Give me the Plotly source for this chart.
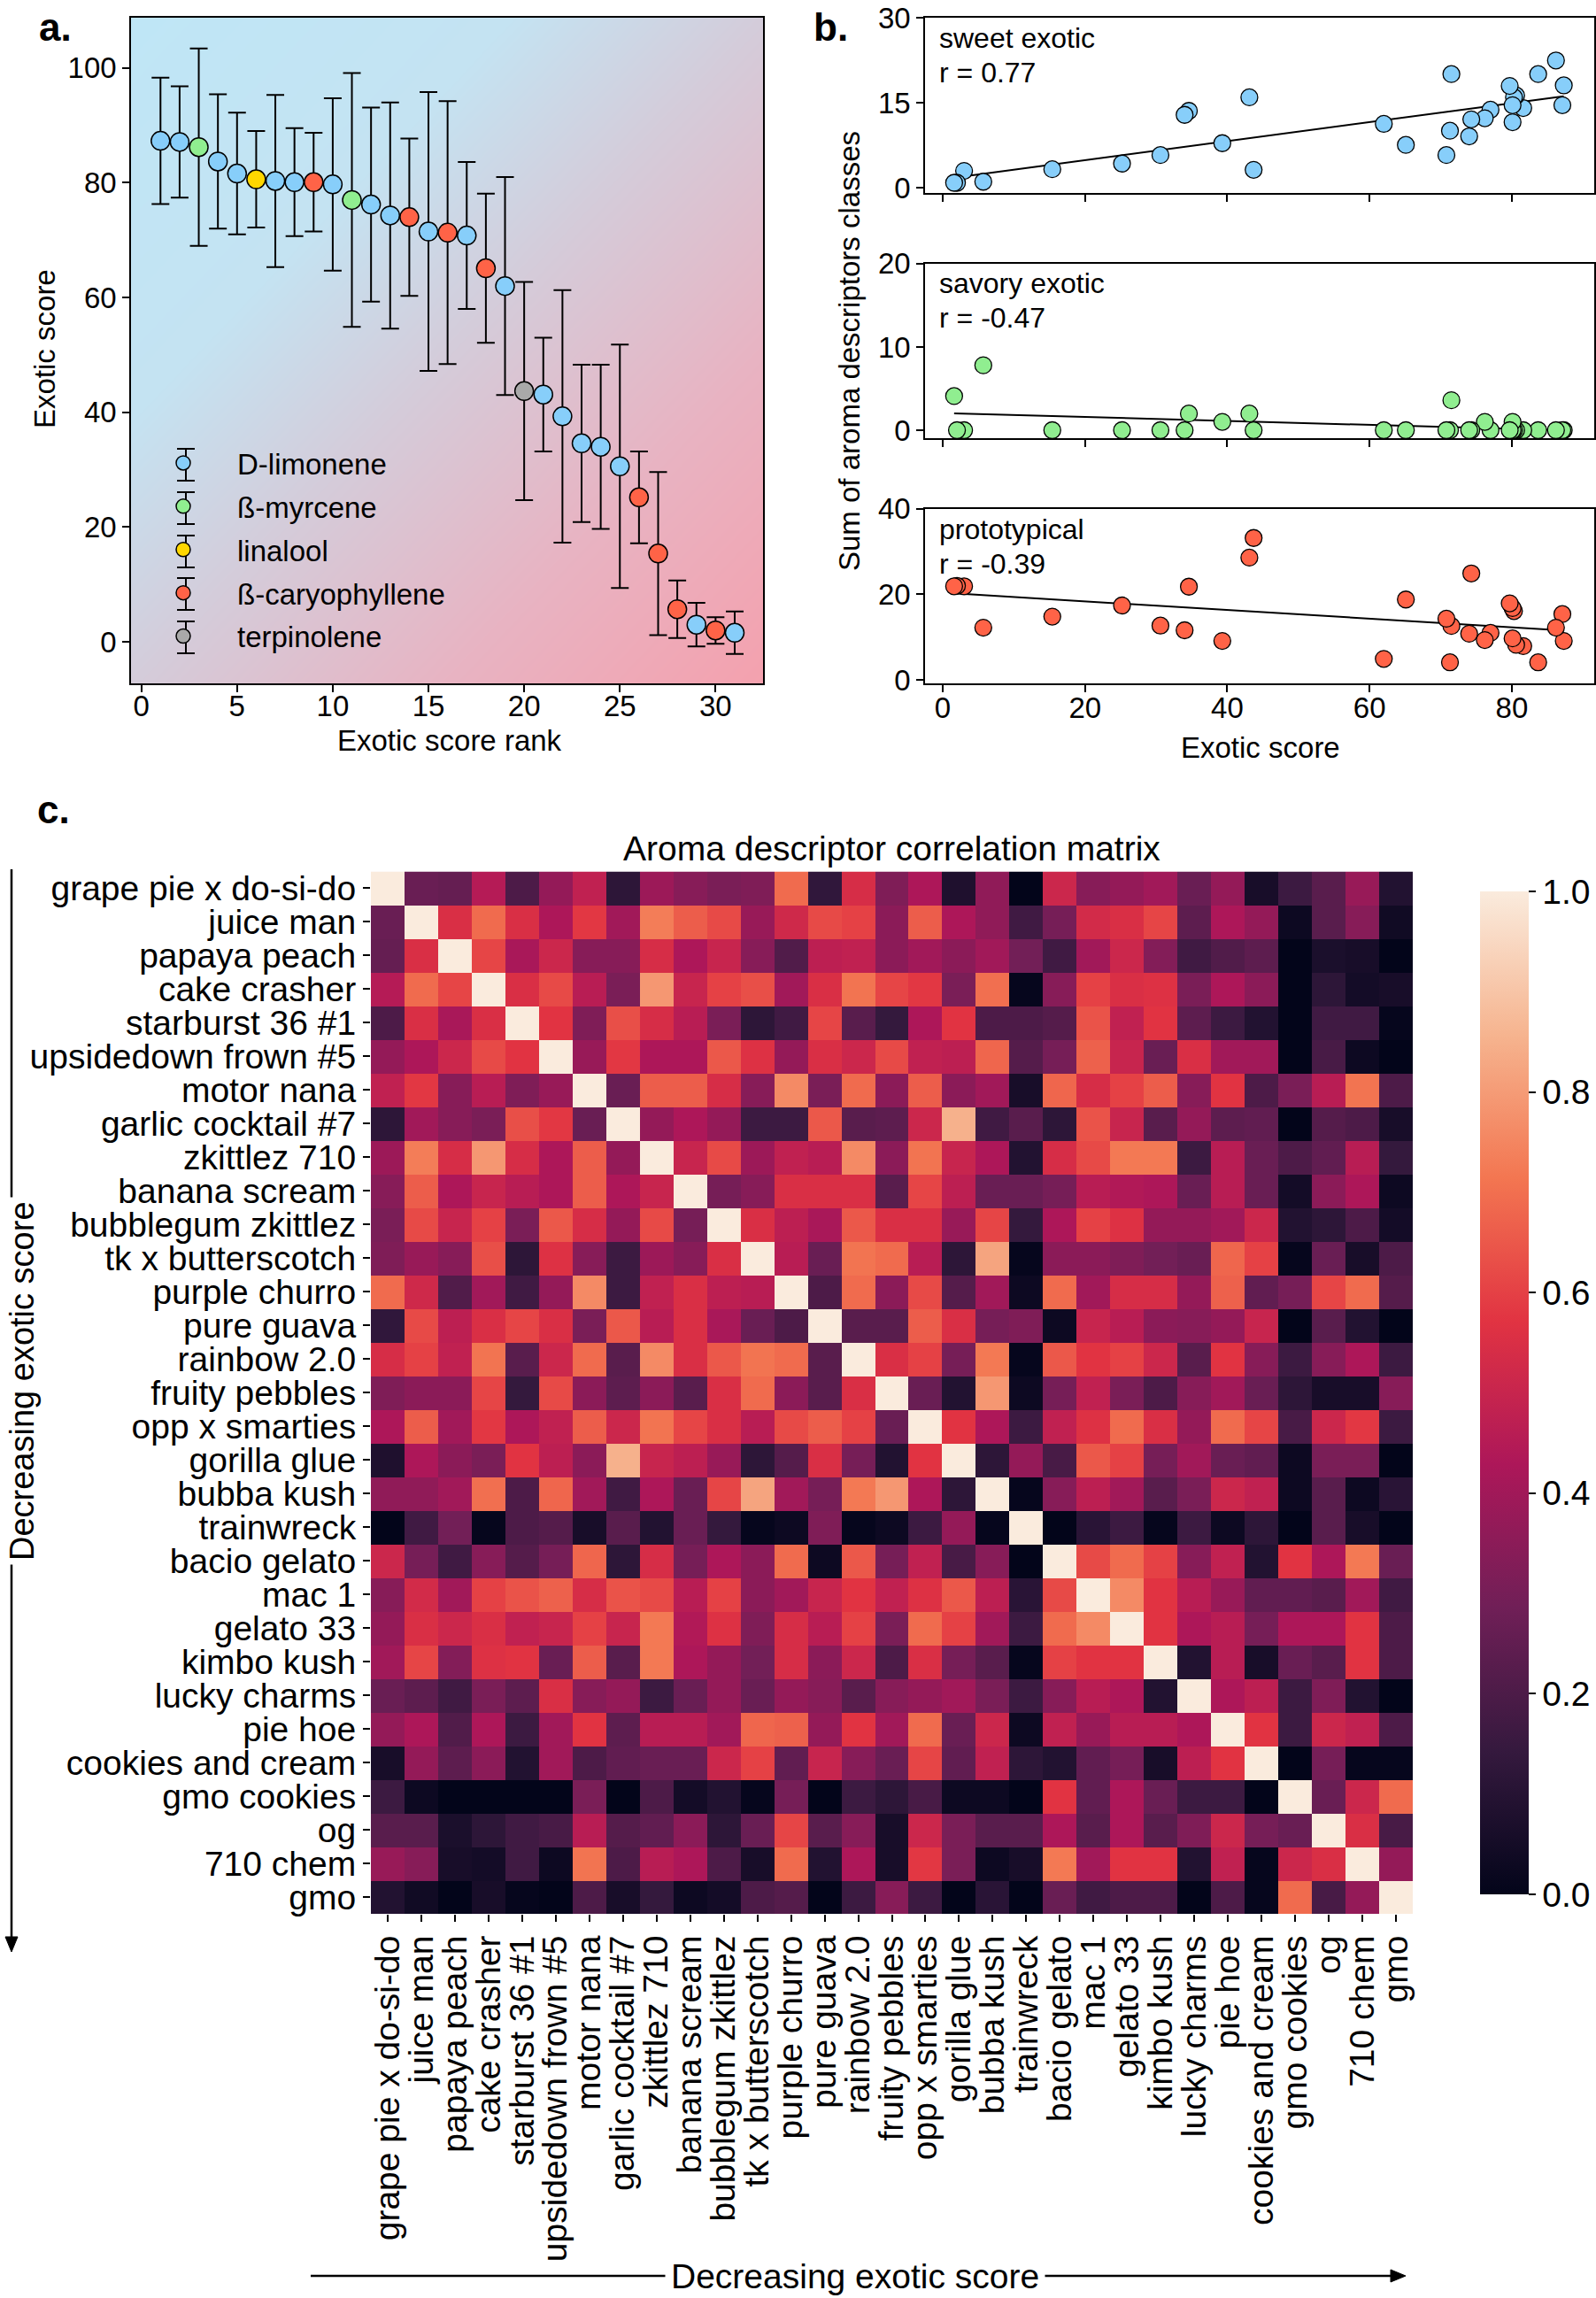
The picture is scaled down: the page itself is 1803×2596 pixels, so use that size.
import numpy as np
import plotly.graph_objects as go

W, H = 1803, 2596
FONT = "Liberation Sans, Arial, Helvetica, sans-serif"

# ---------------- Panel a data ----------------
rank = list(range(1, 32))
exotic_score = [87.3, 87.1, 86.2, 83.7, 81.6, 80.6, 80.3, 80.1, 80.1, 79.7, 77.0, 76.2, 74.3, 74.0,
                71.5, 71.3, 70.8, 65.1, 62.0, 43.7, 43.1, 39.3, 34.6, 34.0, 30.6, 25.2, 15.4, 5.7,
                3.0, 2.0, 1.6]
exotic_err = [11.0, 9.7, 17.2, 11.7, 10.6, 8.4, 15.0, 9.4, 8.6, 15.0, 22.1, 16.9, 19.7, 13.7,
              24.3, 22.9, 12.8, 13.0, 19.0, 19.0, 9.9, 22.0, 13.7, 14.3, 21.2, 8.0, 14.2, 5.0,
              3.8, 2.3, 3.7]
dominant_terpene = ['D-limonene', 'D-limonene', 'ß-myrcene', 'D-limonene', 'D-limonene', 'linalool',
                    'D-limonene', 'D-limonene', 'ß-caryophyllene', 'D-limonene', 'ß-myrcene',
                    'D-limonene', 'D-limonene', 'ß-caryophyllene', 'D-limonene', 'ß-caryophyllene',
                    'D-limonene', 'ß-caryophyllene', 'D-limonene', 'terpinolene', 'D-limonene',
                    'D-limonene', 'D-limonene', 'D-limonene', 'D-limonene', 'ß-caryophyllene',
                    'ß-caryophyllene', 'ß-caryophyllene', 'D-limonene', 'ß-caryophyllene', 'D-limonene']
terpene_names = ['D-limonene', 'ß-myrcene', 'linalool', 'ß-caryophyllene', 'terpinolene']
terpene_colors = ['#87CEFA', '#90EE90', '#FFD700', '#FF6347', '#A9A9A9']

# ---------------- Panel b data ----------------
sweet_exotic = [18.1, 14.6, 22.5, 20.1, 14.1, 16.3, 16.0, 14.6, 11.6, 18.0, 13.8, 12.3, 12.1, 9.1,
                20.1, 10.1, 5.8, 7.6, 11.3, 3.2, 16.0, 7.9, 13.6, 12.9, 5.8, 4.3, 3.3, 1.1, 3.0, 0.9, 0.9]
savory_exotic = [0, 0, 0, 0, 0, 0, 0, 0, 1.0, 0, 0, 1.0, 0, 0, 3.6, 0, 0, 0, 0, 0, 2.0, 1.0, 2.0,
                 0, 0, 0, 0, 7.8, 0, 0, 4.1]
prototypical = [9.1, 15.4, 12.2, 4.1, 7.9, 8.2, 16.1, 16.8, 9.7, 17.9, 11.0, 9.3, 24.9, 10.8, 12.6,
                4.1, 14.3, 18.8, 4.9, 33.2, 28.6, 9.1, 21.8, 11.6, 12.7, 17.4, 14.8, 12.2, 21.9, 22.0, 21.9]
class_names = ['sweet exotic', 'savory exotic', 'prototypical']
class_r_text = ['r = 0.77', 'r = -0.47', 'r = -0.39']
class_colors = ['#87CEFA', '#90EE90', '#FF6347']
class_yticks = [[0, 15, 30], [0, 10, 20], [0, 20, 40]]
class_xticks = [0, 20, 40, 60, 80]

# ---------------- Panel c data ----------------
strains = ['grape pie x do-si-do', 'juice man', 'papaya peach', 'cake crasher', 'starburst 36 #1',
           'upsidedown frown #5', 'motor nana', 'garlic cocktail #7', 'zkittlez 710', 'banana scream',
           'bubblegum zkittlez', 'tk x butterscotch', 'purple churro', 'pure guava', 'rainbow 2.0',
           'fruity pebbles', 'opp x smarties', 'gorilla glue', 'bubba kush', 'trainwreck',
           'bacio gelato', 'mac 1', 'gelato 33', 'kimbo kush', 'lucky charms', 'pie hoe',
           'cookies and cream', 'gmo cookies', 'og', '710 chem', 'gmo']
# upper triangle (row i, columns i+1 .. 30)
corr_upper = [
    [0.27, 0.26, 0.45, 0.20, 0.37, 0.48, 0.12, 0.39, 0.34, 0.31, 0.32, 0.69, 0.13, 0.54, 0.32,
     0.43, 0.08, 0.36, 0.00, 0.51, 0.34, 0.37, 0.40, 0.27, 0.37, 0.06, 0.16, 0.23, 0.38, 0.09],
    [0.55, 0.69, 0.55, 0.43, 0.58, 0.40, 0.73, 0.66, 0.62, 0.38, 0.52, 0.62, 0.60, 0.35,
     0.66, 0.43, 0.36, 0.17, 0.30, 0.53, 0.55, 0.61, 0.24, 0.43, 0.37, 0.03, 0.23, 0.34, 0.04],
    [0.61, 0.42, 0.51, 0.34, 0.34, 0.54, 0.43, 0.50, 0.34, 0.21, 0.47, 0.48, 0.35,
     0.40, 0.35, 0.40, 0.29, 0.17, 0.40, 0.51, 0.33, 0.17, 0.21, 0.24, 0.00, 0.07, 0.06, 0.00],
    [0.55, 0.62, 0.46, 0.31, 0.79, 0.50, 0.60, 0.63, 0.40, 0.55, 0.71, 0.61,
     0.58, 0.31, 0.70, 0.01, 0.34, 0.60, 0.55, 0.56, 0.31, 0.43, 0.35, 0.00, 0.12, 0.05, 0.06],
    [0.57, 0.32, 0.63, 0.54, 0.46, 0.31, 0.12, 0.17, 0.61, 0.23, 0.14,
     0.43, 0.57, 0.20, 0.20, 0.22, 0.64, 0.48, 0.57, 0.24, 0.16, 0.09, 0.00, 0.17, 0.17, 0.01],
    [0.38, 0.58, 0.43, 0.43, 0.65, 0.56, 0.37, 0.55, 0.51, 0.62,
     0.48, 0.47, 0.68, 0.22, 0.30, 0.67, 0.50, 0.27, 0.55, 0.40, 0.40, 0.00, 0.19, 0.03, 0.00],
    [0.27, 0.66, 0.66, 0.54, 0.34, 0.76, 0.31, 0.69, 0.35,
     0.66, 0.35, 0.40, 0.06, 0.68, 0.54, 0.60, 0.66, 0.34, 0.57, 0.20, 0.31, 0.46, 0.71, 0.20],
    [0.37, 0.43, 0.37, 0.16, 0.16, 0.65, 0.23, 0.24,
     0.51, 0.85, 0.17, 0.23, 0.12, 0.64, 0.50, 0.23, 0.37, 0.24, 0.25, 0.00, 0.22, 0.20, 0.06],
    [0.50, 0.62, 0.39, 0.48, 0.46, 0.76, 0.35,
     0.71, 0.50, 0.43, 0.09, 0.54, 0.62, 0.72, 0.72, 0.16, 0.46, 0.27, 0.20, 0.25, 0.46, 0.14],
    [0.30, 0.34, 0.55, 0.55, 0.55, 0.23,
     0.61, 0.47, 0.27, 0.27, 0.30, 0.46, 0.44, 0.43, 0.27, 0.46, 0.27, 0.05, 0.35, 0.43, 0.03],
    [0.55, 0.47, 0.42, 0.65, 0.55,
     0.55, 0.38, 0.61, 0.14, 0.43, 0.60, 0.56, 0.37, 0.37, 0.40, 0.51, 0.09, 0.12, 0.20, 0.05],
    [0.46, 0.27, 0.71, 0.69,
     0.46, 0.12, 0.82, 0.01, 0.35, 0.35, 0.32, 0.29, 0.27, 0.68, 0.60, 0.01, 0.27, 0.06, 0.20],
    [0.20, 0.69, 0.35,
     0.62, 0.22, 0.40, 0.03, 0.69, 0.40, 0.54, 0.54, 0.37, 0.67, 0.25, 0.30, 0.61, 0.69, 0.22],
    [0.23, 0.23,
     0.66, 0.55, 0.30, 0.32, 0.03, 0.50, 0.46, 0.35, 0.34, 0.37, 0.50, 0.00, 0.23, 0.09, 0.00],
    [0.55,
     0.60, 0.30, 0.72, 0.01, 0.65, 0.57, 0.60, 0.51, 0.23, 0.57, 0.34, 0.16, 0.34, 0.43, 0.16],
    [0.27, 0.09, 0.79, 0.03, 0.30, 0.48, 0.31, 0.20, 0.34, 0.40, 0.27, 0.12, 0.06, 0.06, 0.34],
    [0.57, 0.43, 0.16, 0.48, 0.56, 0.69, 0.55, 0.37, 0.69, 0.61, 0.19, 0.51, 0.58, 0.16],
    [0.12, 0.37, 0.19, 0.65, 0.60, 0.30, 0.40, 0.27, 0.25, 0.03, 0.31, 0.31, 0.00],
    [0.01, 0.34, 0.47, 0.40, 0.23, 0.31, 0.51, 0.48, 0.03, 0.23, 0.03, 0.11],
    [0.00, 0.11, 0.16, 0.01, 0.16, 0.03, 0.12, 0.00, 0.23, 0.06, 0.00],
    [0.62, 0.69, 0.60, 0.34, 0.48, 0.09, 0.57, 0.43, 0.72, 0.27],
    [0.76, 0.57, 0.46, 0.38, 0.25, 0.25, 0.23, 0.40, 0.17],
    [0.57, 0.43, 0.46, 0.30, 0.43, 0.43, 0.57, 0.20],
    [0.09, 0.46, 0.06, 0.27, 0.23, 0.57, 0.20],
    [0.43, 0.47, 0.16, 0.32, 0.09, 0.00],
    [0.57, 0.16, 0.51, 0.48, 0.20],
    [0.00, 0.30, 0.01, 0.01],
    [0.27, 0.51, 0.69],
    [0.55, 0.19],
    [0.37],
]
colorbar_ticks = [0.0, 0.2, 0.4, 0.6, 0.8, 1.0]

rocket = [[0.0, '#03051a'], [0.143, '#35193e'], [0.286, '#701f57'], [0.429, '#ad1759'],
          [0.571, '#e13342'], [0.714, '#f37651'], [0.857, '#f6b48f'], [1.0, '#faebdd']]


def px(x):
    return x / W


def py(y):
    return 1 - y / H


n = len(strains)
M = np.eye(n)
for i, row in enumerate(corr_upper):
    for k, v in enumerate(row):
        j = i + 1 + k
        M[i, j] = v
        M[j, i] = v

fig = go.Figure()

# ---- Panel a background gradient ----
xa_range = [-0.54, 32.48]
ya_range = [-7.22, 108.75]
gx = np.linspace(xa_range[0] - 2, xa_range[1] + 2, 60)
gy = np.linspace(ya_range[0] - 6, ya_range[1] + 6, 60)
u = (gx - xa_range[0]) / (xa_range[1] - xa_range[0])
v = (gy - ya_range[0]) / (ya_range[1] - ya_range[0])
Zg = (u[None, :] + (1 - v[:, None])) / 2
fig.add_trace(go.Heatmap(x=gx, y=gy, z=Zg, zsmooth='best', showscale=False, hoverinfo='skip',
                         zmin=0, zmax=1,
                         colorscale=[[0, '#bfe6f6'], [0.3, '#c4e3f2'], [0.5, '#d4ccda'],
                                     [0.75, '#e8b3c2'], [1.0, '#f4a1ae']],
                         xaxis='x', yaxis='y'))

# ---- Panel a points ----
for name, col in zip(terpene_names, terpene_colors):
    idx = [i for i, t in enumerate(dominant_terpene) if t == name]
    fig.add_trace(go.Scatter(
        x=[rank[i] for i in idx], y=[exotic_score[i] for i in idx],
        error_y=dict(type='data', array=[exotic_err[i] for i in idx], color='black',
                     thickness=2, width=10),
        mode='markers', name=name, legendgroup=name,
        marker=dict(size=21, color=col, line=dict(color='black', width=1.5)),
        xaxis='x', yaxis='y'))

# ---- Panel b ----
class_values = [sweet_exotic, savory_exotic, prototypical]
for k, (vals, col) in enumerate(zip(class_values, class_colors)):
    xa = 'x%d' % (k + 2)
    ya = 'y%d' % (k + 2)
    xs = np.array(exotic_score)
    ys = np.array(vals)
    slope, icpt = np.polyfit(xs, ys, 1)
    xl = np.array([xs.min(), xs.max()])
    fig.add_trace(go.Scatter(x=xl, y=slope * xl + icpt, mode='lines',
                             line=dict(color='black', width=2), showlegend=False,
                             xaxis=xa, yaxis=ya, hoverinfo='skip'))
    fig.add_trace(go.Scatter(x=exotic_score, y=vals, mode='markers', showlegend=False,
                             marker=dict(size=19, color=col, line=dict(color='black', width=1.3)),
                             xaxis=xa, yaxis=ya))

# ---- Panel c heatmap ----
fig.add_trace(go.Heatmap(
    z=M, x=strains, y=strains, colorscale=rocket, zmin=0, zmax=1,
    xaxis='x5', yaxis='y5',
    colorbar=dict(x=px(1672), xanchor='left', xref='paper', y=py(1573.5), yanchor='middle',
                  xpad=0, ypad=0,
                  lenmode='pixels', len=1133, thicknessmode='pixels', thickness=55,
                  outlinewidth=0, tickvals=colorbar_ticks, tickformat='.1f', ticks='outside',
                  ticklen=8, tickwidth=1.5, tickcolor='black',
                  tickfont=dict(size=39, color='black', family=FONT))))

axis_common = dict(showgrid=False, zeroline=False, ticks='outside', ticklen=8, tickwidth=1.5,
                   tickcolor='black', showline=True, linecolor='black', linewidth=1.5,
                   mirror=True, tickfont=dict(size=33, color='black', family=FONT))

b_x_dom = [px(1045), px(1801)]
b_y_doms = [[py(218.3), py(20.3)], [py(495.3), py(297.9)], [py(772.4), py(574.9)]]
b_y_ranges = [[-0.94, 30], [-0.99, 20], [-0.91, 40]]

layout = dict(
    width=W, height=H, margin=dict(l=0, r=0, t=0, b=0, autoexpand=False),
    paper_bgcolor='white', plot_bgcolor='rgba(0,0,0,0)',
    font=dict(family=FONT, color='black', size=33),
    xaxis=dict(domain=[px(148), px(862)], range=xa_range, tickvals=[0, 5, 10, 15, 20, 25, 30],
               anchor='y', ticklabelstandoff=-12, **axis_common),
    yaxis=dict(domain=[py(772), py(20)], range=ya_range, tickvals=[0, 20, 40, 60, 80, 100],
               anchor='x', **axis_common),
    legend=dict(x=px(146), y=py(495), xanchor='left', yanchor='top', bgcolor='rgba(0,0,0,0)',
                font=dict(size=33, family=FONT, color='black'), itemwidth=112,
                tracegroupgap=3),
)
for k in range(3):
    layout['xaxis%d' % (k + 2)] = dict(domain=b_x_dom, range=[-2.49, 91.58], tickvals=class_xticks,
                                       showticklabels=(k == 2), anchor='y%d' % (k + 2),
                                       ticklabelstandoff=-11, **axis_common)
    layout['yaxis%d' % (k + 2)] = dict(domain=b_y_doms[k], range=b_y_ranges[k],
                                       tickvals=class_yticks[k], anchor='x%d' % (k + 2),
                                       **axis_common)

hm_common = dict(showgrid=False, zeroline=False, ticks='outside', ticklen=8, tickwidth=1.5,
                 tickcolor='black', showline=False,
                 tickfont=dict(size=39, color='black', family=FONT))
layout['xaxis5'] = dict(domain=[px(419), px(1596)], anchor='y5', tickangle=-90,
                        tickmode='array', tickvals=strains, **hm_common)
layout['yaxis5'] = dict(domain=[py(2162), py(984.5)], anchor='x5', autorange='reversed',
                        tickmode='array', tickvals=strains, **hm_common)

annotations = []


def txt(x, y, s, size=33, angle=0, bold=False, bg=None, xanchor='center', pad=0):
    d = dict(x=px(x), y=py(y), xref='paper', yref='paper', text=('<b>%s</b>' % s) if bold else s,
             showarrow=False, font=dict(size=size, family=FONT, color='black'),
             textangle=angle, xanchor=xanchor, yanchor='middle', borderpad=pad)
    if bg:
        d['bgcolor'] = bg
    annotations.append(d)


txt(63, 30, 'a.', size=44, bold=True)
txt(938, 30, 'b.', size=44, bold=True)
txt(60, 914, 'c.', size=44, bold=True)
txt(50, 394, 'Exotic score', angle=-90)
txt(508, 836, 'Exotic score rank')
txt(1424, 844, 'Exotic score')
txt(960, 397, 'Sum of aroma descriptors classes', angle=-90)
lab_y = [43, 320, 598]
for k in range(3):
    txt(1060, lab_y[k], class_names[k], size=32, xanchor='left')
    txt(1060, lab_y[k] + 39, class_r_text[k], size=32, xanchor='left')
txt(1008, 958, 'Aroma descriptor correlation matrix', size=39)
txt(25, 1560, 'Decreasing exotic score', size=38, angle=-90, bg='white', pad=4)
txt(966, 2571, 'Decreasing exotic score', size=39, bg='white', pad=6)

shapes = [
    dict(type='line', xref='paper', yref='paper', x0=px(13), x1=px(13), y0=py(982), y1=py(2192),
         line=dict(color='black', width=2.5)),
    dict(type='path', xref='paper', yref='paper',
         path='M %f,%f L %f,%f L %f,%f Z' % (px(6), py(2188), px(20), py(2188), px(13), py(2205)),
         fillcolor='black', line=dict(color='black', width=1)),
    dict(type='line', xref='paper', yref='paper', x0=px(351), x1=px(1575), y0=py(2571), y1=py(2571),
         line=dict(color='black', width=2.5)),
    dict(type='path', xref='paper', yref='paper',
         path='M %f,%f L %f,%f L %f,%f Z' % (px(1571), py(2564), px(1571), py(2578), px(1588), py(2571)),
         fillcolor='black', line=dict(color='black', width=1)),
]
# error-bar glyphs behind the legend markers
legend_marker_x = 210
legend_marker_y = [525, 574, 623, 671, 720]
for yy in legend_marker_y:
    shapes.append(dict(type='line', xref='paper', yref='paper', x0=px(legend_marker_x),
                       x1=px(legend_marker_x), y0=py(yy - 18), y1=py(yy + 18),
                       line=dict(color='black', width=2)))
    for yc in (yy - 18, yy + 18):
        shapes.append(dict(type='line', xref='paper', yref='paper', x0=px(legend_marker_x - 10),
                           x1=px(legend_marker_x + 10), y0=py(yc), y1=py(yc),
                           line=dict(color='black', width=2)))

layout['annotations'] = annotations
layout['shapes'] = shapes
fig.update_layout(**layout)
fig.write_html('out.html')
